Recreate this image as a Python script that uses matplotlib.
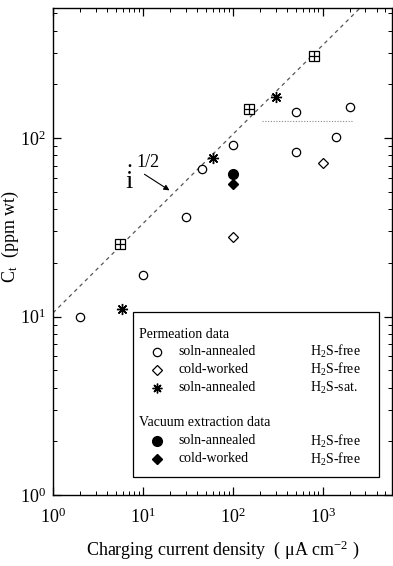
import matplotlib
matplotlib.use("Agg")
import matplotlib.pyplot as plt
from matplotlib.patches import Rectangle

plt.rcParams["font.family"] = ["Liberation Serif", "DejaVu Serif"]
plt.rcParams["mathtext.fontset"] = "custom"
plt.rcParams["mathtext.rm"] = "Liberation Serif"
plt.rcParams["mathtext.it"] = "Liberation Serif:italic"

# permeation data
soln_ann_x = [2, 10, 30, 46, 100, 500, 500, 1400, 2000]
soln_ann_y = [10, 17, 36, 67, 91, 84, 140, 101, 150]
cold_x = [100, 1000]
cold_y = [28, 73]
h2s_sat_x = [5.8, 60, 300]
h2s_sat_y = [11, 77, 170]
# vacuum extraction data
vac_ann_x = [100]
vac_ann_y = [63]
vac_cold_x = [100]
vac_cold_y = [55]
# boxed-plus points
box_x = [5.5, 150, 800]
box_y = [25.5, 146, 288]
# i^1/2 line and plateau
line_x = [1, 2700]
line_y = [10.5, 545]
plateau_x = [210, 2150]
plateau_y = [125, 125]

fig = plt.figure(figsize=(3.93, 5.66), dpi=100)
ax = fig.add_axes([0.135, 0.1254, 0.862, 0.8606])
ax.set_xscale("log")
ax.set_yscale("log")
ax.set_xlim(1, 5900)
ax.set_ylim(1, 537)

ax.plot(line_x, line_y, ls=(0, (3, 3)), color="#555", lw=0.9)
ax.plot(plateau_x, plateau_y, ls=(0, (1, 1.5)), color="#888", lw=0.8)

ms = 6
ax.plot(soln_ann_x, soln_ann_y, "o", mfc="white", mec="black", ms=ms, mew=0.9, ls="none")
ax.plot(cold_x, cold_y, "D", mfc="white", mec="black", ms=ms - 1, mew=0.9, ls="none")
ax.plot(h2s_sat_x, h2s_sat_y, marker=(8, 2, 0), color="black", ms=ms + 2, mew=1.0, ls="none")
ax.plot(vac_ann_x, vac_ann_y, "o", color="black", ms=ms + 1, ls="none")
ax.plot(vac_cold_x, vac_cold_y, "D", color="black", ms=ms - 1, ls="none")
ax.plot(box_x, box_y, "s", mfc="white", mec="black", ms=ms + 1, mew=0.9, ls="none")
ax.plot(box_x, box_y, "+", color="black", ms=ms + 1, mew=0.9, ls="none")

# i^1/2 label with arrow to the line
ax.annotate("", xy=(21, 50), xytext=(9.8, 64),
            arrowprops=dict(arrowstyle="-|>", color="black", lw=0.8, mutation_scale=8))
ax.text(7.0, 58, r"$\dot{\mathrm{i}}$", fontsize=19, ha="center", va="center")
ax.text(11.5, 73, "1/2", fontsize=13, ha="center", va="center")

# legend box
t = ax.transAxes
ax.add_patch(Rectangle((0.236, 0.037), 0.726, 0.339, transform=t,
                       fill=False, ec="black", lw=0.9, zorder=5))
fs = 10
ax.text(0.254, 0.329, "Permeation data", transform=t, fontsize=fs, va="center")
ax.text(0.254, 0.148, "Vacuum extraction data", transform=t, fontsize=fs, va="center")
rows = [
    (0.294, dict(marker="o", mfc="white", mec="black", ms=ms, mew=0.9), "soln-annealed", "H$_2$S-free"),
    (0.257, dict(marker="D", mfc="white", mec="black", ms=ms - 1, mew=0.9), "cold-worked", "H$_2$S-free"),
    (0.220, dict(marker=(8, 2, 0), color="black", ms=ms + 1, mew=1.0), "soln-annealed", "H$_2$S-sat."),
    (0.111, dict(marker="o", color="black", ms=ms + 1), "soln-annealed", "H$_2$S-free"),
    (0.074, dict(marker="D", color="black", ms=ms - 1), "cold-worked", "H$_2$S-free"),
]
for yy, mk, lab, cond in rows:
    ax.plot([0.307], [yy], transform=t, ls="none", clip_on=False, zorder=6, **mk)
    ax.text(0.369, yy, lab, transform=t, fontsize=fs, va="center")
    ax.text(0.758, yy, cond, transform=t, fontsize=fs, va="center")

ax.tick_params(which="both", direction="in", top=True, right=True, labelsize=13)
ax.tick_params(which="major", length=6, width=0.9)
ax.tick_params(which="minor", length=3, width=0.7)
ax.tick_params(axis="x", pad=9)
ax.tick_params(axis="y", pad=5)
for s in ax.spines.values():
    s.set_linewidth(1.0)

ax.set_xlabel("Charging current density  ( μA cm$^{-2}$ )", fontsize=13, labelpad=8)
ax.set_ylabel(r"C$_{\rm t}$  (ppm wt)", fontsize=13)
ax.yaxis.set_label_coords(-0.095, 0.53)

fig.savefig("out.png", dpi=100)
